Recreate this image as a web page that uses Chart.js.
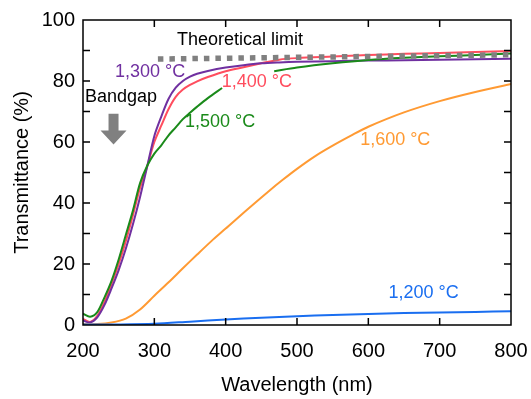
<!DOCTYPE html>
<html>
<head>
<meta charset="utf-8">
<script src="https://cdn.jsdelivr.net/npm/chart.js@4/dist/chart.umd.min.js"></script>
<style>
  body { margin: 0; background: #fff; }
  canvas { display: block; }
</style>
</head>
<body>
<canvas id="chart" width="531" height="399"></canvas>
<script>
// Wavelengths (nm) for the two steepest curves
const wlMain = [200, 210, 220, 230, 240, 250, 260, 270, 280, 290, 300, 310, 320, 330, 340, 350, 360, 375, 400, 425, 450, 475, 500, 550, 600, 650, 700, 750, 800];
const t1300 = [1.5, 0.8, 2.5, 6.5, 12, 18, 25, 33, 42, 52, 62, 68.5, 74.2, 77.8, 80, 81.4, 82.4, 83.3, 84.4, 85.2, 85.8, 86.1, 86.3, 86.5, 86.7, 86.8, 87, 87.1, 87.3];
const t1400 = [2, 1, 3, 7.5, 13.5, 20, 27.5, 36, 45, 52, 60, 65.5, 70.8, 74.8, 77.2, 78.7, 79.9, 81.3, 83.2, 84.5, 85.8, 87, 87.5, 88, 88.5, 88.9, 89.2, 89.5, 89.8];

// 1,500 °C curve is hidden behind its neighbour's label between ~395 and ~468 nm
const wl1500 = [200, 210, 220, 230, 240, 250, 260, 270, 280, 290, 300, 310, 320, 330, 340, 350, 360, 375, 395, 430, 468, 500, 550, 600, 650, 700, 750, 800];
const t1500 = [3.7, 2.7, 4.2, 9, 14.5, 21.5, 29.5, 37.5, 46.5, 52.2, 56.2, 59, 62.2, 64.8, 67.5, 69.6, 71.6, 74.4, 77.7, null, 83.2, 84.4, 85.8, 86.9, 87.6, 88.1, 88.5, 89];

const wl1600 = [200, 220, 240, 260, 280, 300, 320, 340, 360, 380, 400, 430, 460, 480, 500, 525, 550, 575, 600, 650, 700, 750, 800];
const t1600 = [0.3, 0.3, 0.8, 2.1, 5.1, 9.6, 14, 18.6, 23.1, 27.5, 31.6, 37.8, 43.8, 47.6, 51.2, 55.3, 58.8, 62, 65, 69.7, 73.4, 76.4, 79];

const wl1200 = [200, 250, 300, 350, 400, 450, 500, 550, 600, 650, 700, 750, 800];
const t1200 = [0.2, 0.2, 0.4, 1.1, 1.8, 2.4, 2.9, 3.3, 3.6, 3.9, 4.1, 4.3, 4.5];

const wlLimit = [305, 800];
const tLimit = [87.2, 88.6];

const xTicks = [200, 300, 400, 500, 600, 700, 800];
const yTicks = [0, 20, 40, 60, 80, 100];

// Text labels placed in data coordinates
const labelTexts = ["Theoretical limit", "1,300 °C", "1,400 °C", "1,500 °C", "1,600 °C", "1,200 °C", "Bandgap"];
const labelX = [331.8, 244.9, 394.5, 343, 588.5, 628.2, 202.8];
const labelY = [93.3, 82.9, 79.7, 66.6, 60.6, 10.5, 74.8];
const labelColors = ["#000000", "#7030A0", "#FF4D5E", "#1A8A1A", "#FF9A33", "#1A6EF0", "#000000"];

// Bandgap arrow (x, top, tip) in data units
const arrowX = 242.8;
const arrowTop = 69.3;
const arrowTip = 59.2;

const FONT = "'Liberation Sans', Arial, Helvetica, sans-serif";

function toPoints(xs, ys) {
    return xs.map((x, i) => ({ x: x, y: ys[i] }));
}

function lineSet(label, xs, ys, color) {
    return {
        label: label,
        data: toPoints(xs, ys),
        borderColor: color,
        borderWidth: 2,
        pointRadius: 0,
        fill: false,
        tension: 0.3,
        spanGaps: false
    };
}

// Frame, inward ticks, labels and arrow
const decorPlugin = {
    id: "decor",
    afterDatasetsDraw(chart) {
        const ctx = chart.ctx;
        const xs = chart.scales.x;
        const ys = chart.scales.y;
        const a = chart.chartArea;

        ctx.save();
        ctx.strokeStyle = "#000";
        ctx.lineWidth = 1.5;
        ctx.strokeRect(a.left, a.top, a.right - a.left, a.bottom - a.top);

        const tl = 7;
        ctx.beginPath();
        xTicks.forEach(v => {
            if (v === 200 || v === 800) return;
            const px = xs.getPixelForValue(v);
            ctx.moveTo(px, a.bottom); ctx.lineTo(px, a.bottom - tl);
            ctx.moveTo(px, a.top); ctx.lineTo(px, a.top + tl);
        });
        for (let v = 10; v < 100; v += 10) {
            const py = ys.getPixelForValue(v);
            ctx.moveTo(a.left, py); ctx.lineTo(a.left + tl, py);
            ctx.moveTo(a.right, py); ctx.lineTo(a.right - tl, py);
        }
        ctx.stroke();

        // text labels
        ctx.font = "18px " + FONT;
        ctx.textBaseline = "middle";
        ctx.textAlign = "left";
        labelTexts.forEach((t, i) => {
            ctx.fillStyle = labelColors[i];
            ctx.fillText(t, xs.getPixelForValue(labelX[i]), ys.getPixelForValue(labelY[i]));
        });

        // bandgap arrow
        const cx = xs.getPixelForValue(arrowX);
        const top = ys.getPixelForValue(arrowTop);
        const tip = ys.getPixelForValue(arrowTip);
        const headY = tip - 14;
        ctx.fillStyle = "#808080";
        ctx.beginPath();
        ctx.moveTo(cx - 5, top);
        ctx.lineTo(cx + 5, top);
        ctx.lineTo(cx + 5, headY);
        ctx.lineTo(cx + 13, headY);
        ctx.lineTo(cx, tip);
        ctx.lineTo(cx - 13, headY);
        ctx.lineTo(cx - 5, headY);
        ctx.closePath();
        ctx.fill();
        ctx.restore();
    }
};

new Chart(document.getElementById("chart"), {
    type: "line",
    data: {
        datasets: [
            {
                label: "Theoretical limit",
                data: toPoints(wlLimit, tLimit),
                borderColor: "#808080",
                borderWidth: 5.5,
                borderDash: [5.5, 6],
                borderCapStyle: "butt",
                pointRadius: 0,
                fill: false
            },
            lineSet("1,200 °C", wl1200, t1200, "#1A6EF0"),
            lineSet("1,600 °C", wl1600, t1600, "#FF9A33"),
            lineSet("1,500 °C", wl1500, t1500, "#1A8A1A"),
            lineSet("1,300 °C", wlMain, t1300, "#7030A0"),
            lineSet("1,400 °C", wlMain, t1400, "#FF4D5E")
        ]
    },
    options: {
        responsive: false,
        animation: false,
        layout: { padding: { top: 20, right: 20, left: 0, bottom: 0 } },
        plugins: {
            legend: { display: false },
            tooltip: { enabled: false }
        },
        scales: {
            x: {
                type: "linear",
                min: 200,
                max: 800,
                afterBuildTicks: axis => { axis.ticks = xTicks.map(v => ({ value: v })); },
                afterFit: axis => {
                    axis.height = 74;
                    axis.paddingLeft = 0;
                    axis.paddingRight = 0;
                },
                grid: { display: false, drawTicks: false },
                border: { display: false },
                ticks: { color: "#000", font: { size: 20, family: FONT }, padding: 14, maxRotation: 0 },
                title: { display: true, text: "Wavelength (nm)", color: "#000", font: { size: 20, family: FONT }, padding: { top: 0, bottom: 2 } }
            },
            y: {
                min: 0,
                max: 100,
                afterBuildTicks: axis => { axis.ticks = yTicks.map(v => ({ value: v })); },
                afterFit: axis => {
                    axis.width = 83;
                    axis.paddingTop = 0;
                    axis.paddingBottom = 0;
                },
                grid: { display: false, drawTicks: false },
                border: { display: false },
                ticks: { color: "#000", font: { size: 20, family: FONT }, padding: 8 },
                title: { display: true, text: "Transmittance (%)", color: "#000", font: { size: 20, family: FONT }, padding: { top: 10, bottom: 0 } }
            }
        }
    },
    plugins: [decorPlugin]
});
</script>
</body>
</html>
